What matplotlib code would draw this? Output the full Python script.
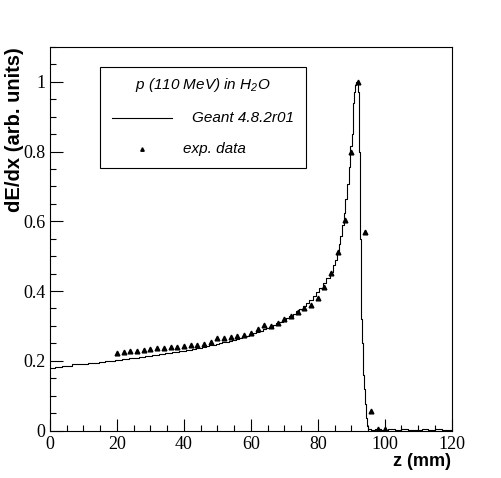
import matplotlib
matplotlib.use('Agg')
import matplotlib.pyplot as plt
from matplotlib.ticker import MultipleLocator, FuncFormatter
from matplotlib.patches import Rectangle
from matplotlib.lines import Line2D

# Geant 4.8.2r01 simulated Bragg curve (bin centres in mm, normalised dE/dx)
geant_z = [0, 1, 2, 3, 4, 5, 6, 7, 8, 9,
           10, 11, 12, 13, 14, 15, 16, 17, 18, 19,
           20, 21, 22, 23, 24, 25, 26, 27, 28, 29,
           30, 31, 32, 33, 34, 35, 36, 37, 38, 39,
           40, 41, 42, 43, 44, 45, 46, 47, 48, 49,
           50, 51, 52, 53, 54, 55, 56, 57, 58, 59,
           60, 61, 62, 63, 64, 65, 66, 67, 68, 69,
           70, 71, 72, 73, 74, 75, 76, 77, 78, 79,
           80, 81, 82, 83, 84, 85, 85.5, 86, 86.5, 87,
           87.5, 88, 88.5, 89, 89.5, 90, 90.25, 90.5, 90.75, 91,
           91.25, 91.5, 91.75, 92, 92.25, 92.5, 92.75, 93, 93.25, 93.5,
           93.75, 94, 94.25, 94.5, 94.75, 95, 95.5, 96, 98, 100,
           102, 104, 106, 108, 110, 112, 114, 116, 118, 120]
geant_dedx = [0.178, 0.180, 0.181, 0.183, 0.184, 0.185, 0.186, 0.192, 0.190, 0.190,
              0.191, 0.192, 0.193, 0.193, 0.195, 0.196, 0.197, 0.198, 0.199, 0.200,
              0.202, 0.203, 0.204, 0.206, 0.207, 0.208, 0.209, 0.210, 0.212, 0.213,
              0.214, 0.216, 0.217, 0.219, 0.220, 0.221, 0.223, 0.224, 0.226, 0.227,
              0.229, 0.231, 0.232, 0.234, 0.236, 0.238, 0.240, 0.242, 0.244, 0.246,
              0.248, 0.251, 0.253, 0.255, 0.258, 0.260, 0.263, 0.266, 0.269, 0.272,
              0.275, 0.279, 0.282, 0.286, 0.290, 0.294, 0.298, 0.303, 0.307, 0.312,
              0.317, 0.323, 0.329, 0.335, 0.342, 0.349, 0.357, 0.366, 0.375, 0.385,
              0.396, 0.408, 0.422, 0.437, 0.454, 0.474, 0.490, 0.512, 0.535, 0.558,
              0.590, 0.625, 0.665, 0.708, 0.755, 0.815, 0.850, 0.900, 0.940, 0.970,
              0.990, 1.000, 0.995, 0.990, 0.970, 0.800, 0.550, 0.320, 0.250, 0.200,
              0.160, 0.120, 0.075, 0.035, 0.012, 0.004, 0.003, 0.002, 0.003, 0.002,
              0.003, 0.002, 0.003, 0.002, 0.002, 0.003, 0.002, 0.003, 0.002, 0.002]

# experimental data
exp_z = [20, 22, 24, 26, 28, 30, 32, 34, 36, 38,
         40, 42, 44, 46, 48, 50, 52, 54, 56, 58,
         60, 62, 64, 66, 68, 70, 72, 74, 76, 78,
         80, 82, 84, 86, 88, 90, 92, 94, 96, 98, 100]
exp_dedx = [0.223, 0.225, 0.227, 0.229, 0.231, 0.233, 0.237, 0.237, 0.239, 0.239,
            0.241, 0.244, 0.246, 0.248, 0.254, 0.264, 0.265, 0.267, 0.271, 0.275,
            0.279, 0.290, 0.302, 0.300, 0.309, 0.321, 0.328, 0.340, 0.350, 0.361,
            0.380, 0.413, 0.453, 0.512, 0.605, 0.798, 0.999, 0.569, 0.055, 0.003, 0.003]

legend_title = 'p (110 MeV) in H$_\\mathregular{2}$O'
legend_labels = ['Geant 4.8.2r01', 'exp. data']

W, H = 502, 478
fig = plt.figure(figsize=(W / 100, H / 100), dpi=100)
ax = fig.add_axes([50 / W, 1 - 430.5 / H, 401.7 / W, 383.5 / H])

ax.step(geant_z, geant_dedx, where='mid', color='black', lw=0.8)
ax.plot(exp_z, exp_dedx, ls='none', marker='^', ms=3.4, color='black')

ax.set_xlim(0, 120)
ax.set_ylim(0, 1.1)
ax.xaxis.set_major_locator(MultipleLocator(20))
ax.xaxis.set_minor_locator(MultipleLocator(5))
ax.yaxis.set_major_locator(MultipleLocator(0.2))
ax.yaxis.set_minor_locator(MultipleLocator(0.05))
ax.yaxis.set_major_formatter(FuncFormatter(lambda v, p: '%g' % round(v, 2)))

ax.tick_params(which='both', direction='in', top=False, right=False, width=0.8)
ax.tick_params(which='major', length=9)
ax.tick_params(which='minor', length=4.5)
ax.tick_params(axis='x', pad=4)
ax.tick_params(axis='y', pad=3.5)
for lab in ax.get_xticklabels() + ax.get_yticklabels():
    lab.set_fontfamily('Liberation Serif')
    lab.set_fontsize(13)
for s in ax.spines.values():
    s.set_linewidth(0.8)

# axis titles (ROOT style: right/top aligned)
fig.text(15 / W, 1 - 47 / H, 'dE/dx (arb. units)', rotation=90, ha='center', va='top',
         family='Liberation Sans', weight='bold', fontsize=14.5)
fig.text(451 / W, 1 - 466 / H, 'z (mm)', ha='right', va='baseline',
         family='Liberation Sans', weight='bold', fontsize=13)

# legend box
fig.patches.append(Rectangle((100 / W, 1 - 168 / H), 206 / W, 101 / H, transform=fig.transFigure,
                             fill=False, edgecolor='black', lw=0.8))
fig.text(203 / W, 1 - 85 / H, legend_title, ha='center', va='center',
         family='Liberation Sans', style='italic', fontsize=11)
fig.lines.append(Line2D([112 / W, 172 / W], [1 - 118 / H, 1 - 118 / H], transform=fig.transFigure,
                        color='black', lw=0.8))
fig.text(192 / W, 1 - 118 / H, legend_labels[0], ha='left', va='center',
         family='Liberation Sans', style='italic', fontsize=11)
fig.lines.append(Line2D([142 / W], [1 - 149 / H], transform=fig.transFigure, ls='none',
                        marker='^', ms=2.5, color='black'))
fig.text(183 / W, 1 - 149 / H, legend_labels[1], ha='left', va='center',
         family='Liberation Sans', style='italic', fontsize=11)

fig.savefig('out.png', dpi=100)
